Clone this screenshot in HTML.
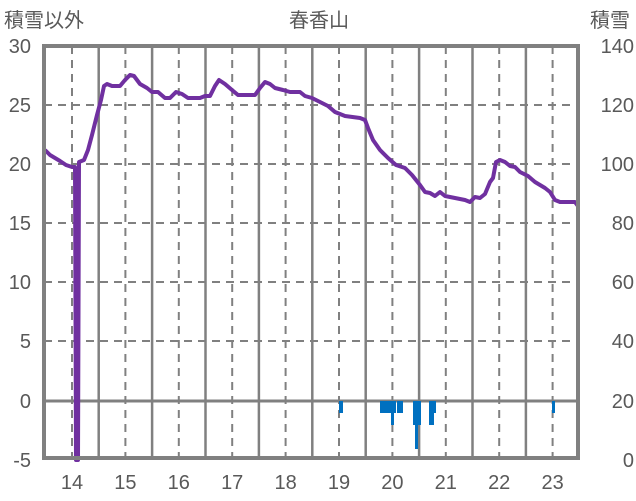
<!DOCTYPE html>
<html><head><meta charset="utf-8"><style>
html,body{margin:0;padding:0;background:#fff;}
svg{display:block;}
text{font-family:"Liberation Sans","Noto Sans CJK JP",sans-serif;fill:#595959;font-size:20px;}
</style></head><body>
<svg width="636" height="501" viewBox="0 0 636 501">
<g stroke="#808080" stroke-width="2" stroke-dasharray="8,6" fill="none">
<line x1="44" y1="105" x2="578" y2="105"/>
<line x1="44" y1="164" x2="578" y2="164"/>
<line x1="44" y1="223" x2="578" y2="223"/>
<line x1="44" y1="282" x2="578" y2="282"/>
<line x1="44" y1="341" x2="578" y2="341"/>
<line x1="72" y1="46" x2="72" y2="458"/>
<line x1="125.4" y1="46" x2="125.4" y2="458"/>
<line x1="178.8" y1="46" x2="178.8" y2="458"/>
<line x1="232.2" y1="46" x2="232.2" y2="458"/>
<line x1="285.6" y1="46" x2="285.6" y2="458"/>
<line x1="339" y1="46" x2="339" y2="458"/>
<line x1="392.4" y1="46" x2="392.4" y2="458"/>
<line x1="445.8" y1="46" x2="445.8" y2="458"/>
<line x1="499.2" y1="46" x2="499.2" y2="458"/>
<line x1="552.6" y1="46" x2="552.6" y2="458"/>
</g>
<g stroke="#808080" stroke-width="2.5" fill="none">
<line x1="98.7" y1="46" x2="98.7" y2="458"/>
<line x1="152.1" y1="46" x2="152.1" y2="458"/>
<line x1="205.5" y1="46" x2="205.5" y2="458"/>
<line x1="258.9" y1="46" x2="258.9" y2="458"/>
<line x1="312.3" y1="46" x2="312.3" y2="458"/>
<line x1="365.7" y1="46" x2="365.7" y2="458"/>
<line x1="419.1" y1="46" x2="419.1" y2="458"/>
<line x1="472.5" y1="46" x2="472.5" y2="458"/>
<line x1="525.9" y1="46" x2="525.9" y2="458"/>
<line x1="44" y1="401" x2="578" y2="401" stroke-width="3"/>
</g>
<g fill="#0070C0">
<rect x="339" y="401" width="4" height="12"/>
<rect x="380" y="401" width="16" height="12"/>
<rect x="391" y="401" width="3" height="24"/>
<rect x="397" y="401" width="6" height="12"/>
<rect x="413" y="401" width="8" height="24"/>
<rect x="415" y="401" width="3" height="48"/>
<rect x="429" y="401" width="7" height="12"/>
<rect x="429" y="401" width="5" height="24"/>
<rect x="552" y="401" width="3" height="12"/>
</g>
<polyline fill="none" stroke="#7030A0" stroke-width="4" stroke-linejoin="round" points="45,150 50,155 55,158 60,161 66,165 72,167 75,167 76,460 78,460 79,162 84,160 88,150 92,135 97,115 101,100 104,86 107,84 112,86 120,86 125,80 130,75 134,76 140,84 147,88 152,92 158,92 165,98 170,98 176,92 182,94 188,98 200,98 205,96 210,96 215,86 219,80 225,84 232,90 238,95 255,95 260,88 265,82 270,84 275,88 283,90 290,92 300,92 305,96 312,98 320,102 328,106 335,112 340,114 345,116 360,118 365,120 368,128 373,140 380,150 388,158 396,165 405,168 412,175 420,185 425,192 430,193 435,196 440,192 445,196 455,198 465,200 470,202 475,197 480,198 485,194 490,182 493,178 496,162 500,160 505,162 510,166 515,167 520,172 528,176 535,182 545,188 550,192 555,200 560,202 575,202 578,206"/>
<rect x="44" y="46" width="534" height="412" fill="none" stroke="#808080" stroke-width="4"/>
<g text-anchor="end">
<text x="31" y="53">30</text><text x="31" y="112">25</text><text x="31" y="171">20</text><text x="31" y="230">15</text><text x="31" y="289">10</text><text x="31" y="348">5</text><text x="31" y="408">0</text><text x="31" y="467">-5</text>
</g>
<g text-anchor="end">
<text x="634" y="53">140</text><text x="634" y="112">120</text><text x="634" y="171">100</text><text x="634" y="230">80</text><text x="634" y="289">60</text><text x="634" y="348">40</text><text x="634" y="408">20</text><text x="634" y="467">0</text>
</g>
<g text-anchor="middle">
<text x="72" y="489">14</text><text x="125.4" y="489">15</text><text x="178.8" y="489">16</text><text x="232.2" y="489">17</text><text x="285.6" y="489">18</text><text x="339" y="489">19</text><text x="392.4" y="489">20</text><text x="445.8" y="489">21</text><text x="499.2" y="489">22</text><text x="552.6" y="489">23</text>
<text x="319" y="27">春香山</text>
</g>
<text x="4" y="27">積雪以外</text>
<text x="590" y="27">積雪</text>
</svg>
</body></html>
